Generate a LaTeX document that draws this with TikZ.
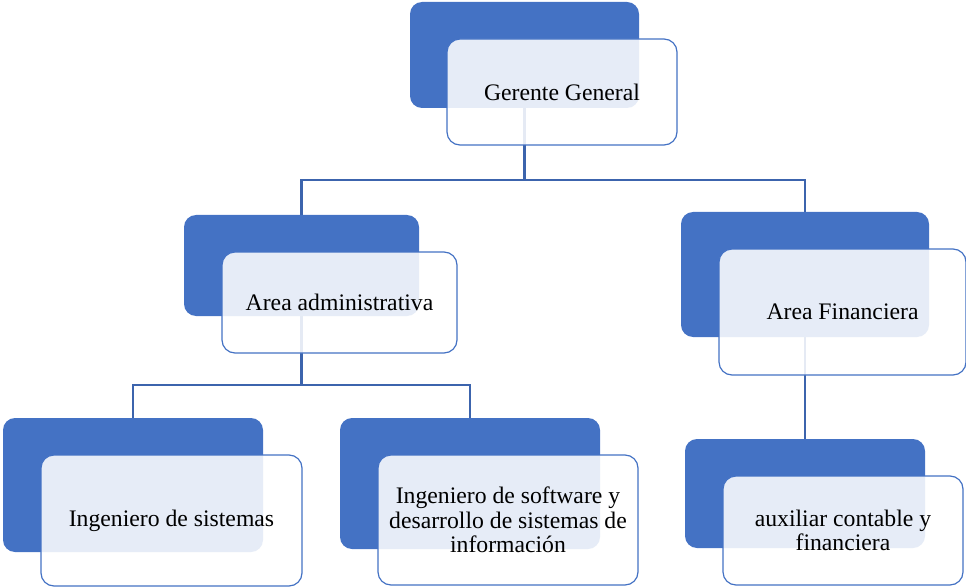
\documentclass[tikz,border=0pt]{standalone}
\usepackage{fontspec}
\setmainfont{Liberation Serif}
\usetikzlibrary{backgrounds}
\definecolor{accblue}{HTML}{4472C4}
\definecolor{connblue}{HTML}{3C64AD}
\begin{document}
\begin{tikzpicture}[x=1pt,y=-1pt,
  backbox/.style={draw=none,fill=accblue,rounded corners=12pt,inner sep=0pt},
  frontbox/.style={draw=accblue,line width=1.2pt,fill=white,fill opacity=0.87,draw opacity=1,text opacity=1,
     rounded corners=13pt,inner sep=0pt,align=center,font=\fontsize{23.7}{24.5}\selectfont},
  conn/.style={draw=connblue,line width=2.4pt}]
\useasboundingbox (0,0) rectangle (966,588);
% back boxes
\node[backbox,minimum width=229pt,minimum height=106pt] (gB) at (524.5,55) {};
\node[backbox,minimum width=235pt,minimum height=101pt] (aB) at (301.5,265.5) {};
\node[backbox,minimum width=248pt,minimum height=125pt] (fB) at (805,274.5) {};
\node[backbox,minimum width=240pt,minimum height=109pt] (xB) at (805,493.5) {};
\node[backbox,minimum width=260pt,minimum height=134pt] (iB) at (133,485) {};
\node[backbox,minimum width=260pt,minimum height=131pt] (sB) at (470,483.5) {};
% connectors
\begin{pgfonlayer}{background}
\draw[conn] (gB.south) -- ++(0,72) coordinate (j1);
\draw[conn] (j1) -| (aB.north);
\draw[conn] (j1) -| (fB.north);
\draw[conn] (aB.south) -- ++(0,69) coordinate (j2);
\draw[conn] (j2) -| (iB.north);
\draw[conn] (j2) -| (sB.north);
\draw[conn] (fB.south) -- (xB.north);
\end{pgfonlayer}
% front boxes
\node[frontbox,minimum width=230pt,minimum height=106pt] (gF) at (562,92) {Gerente General};
\node[frontbox,minimum width=235pt,minimum height=101pt] (aF) at (339.5,302.5) {Area administrativa};
\node[frontbox,minimum width=247pt,minimum height=126pt] (fF) at (842.5,312) {Area Financiera};
\node[frontbox,minimum width=240pt,minimum height=109pt] (xF) at (843,530.5) {auxiliar contable y\\financiera};
\node[frontbox,minimum width=261pt,minimum height=131pt] (iF) at (171.5,520.5) {Ingeniero de sistemas};
\node[frontbox,minimum width=260pt,minimum height=130pt] (sF) at (508,520) {Ingeniero de software y\\desarrollo de sistemas de\\información};
\end{tikzpicture}
\end{document}
